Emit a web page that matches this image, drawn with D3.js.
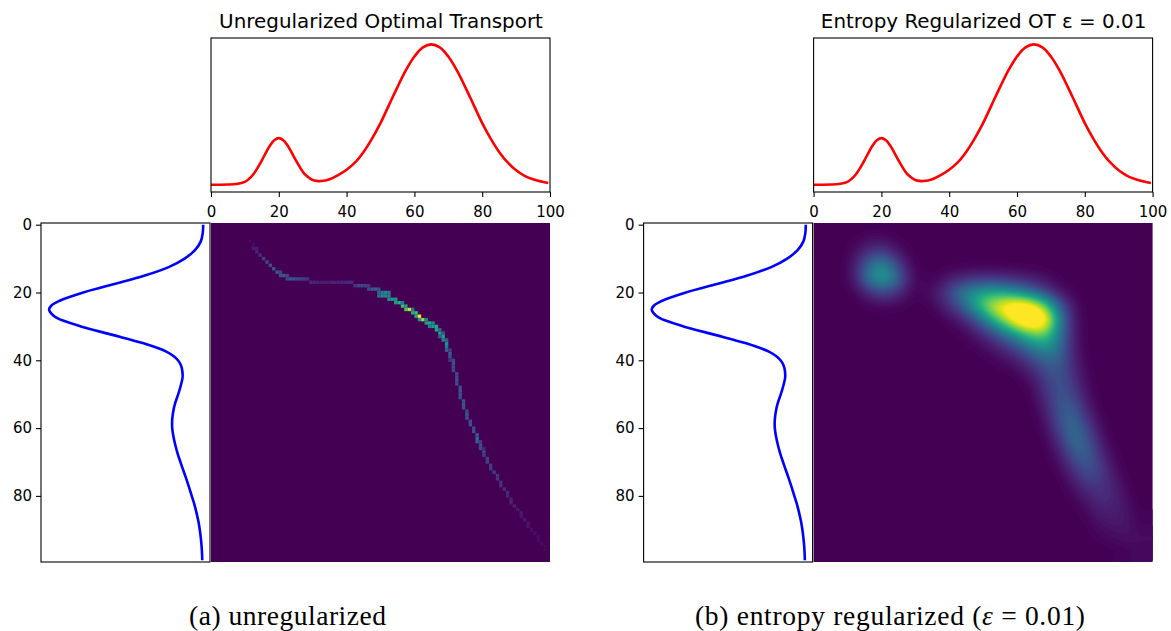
<!DOCTYPE html>
<html>
<head>
<meta charset="utf-8">
<script src="https://d3js.org/d3.v7.min.js"></script>
<style>
  html, body { margin: 0; padding: 0; background: #fff; }
  svg { display: block; }
  .tick text { font-family: "DejaVu Sans"; font-size: 15px; fill: #000; }
  .title { font-family: "DejaVu Sans"; font-size: 19.9px; fill: #000; text-anchor: middle; }
  .caption { font-family: "Liberation Serif"; font-size: 27.5px; fill: #000; text-anchor: middle; }
</style>
</head>
<body>
<div id="chart"></div>
<script>
// Top marginal (red)
const sourceX = [0, 2.5, 5, 7.5, 10, 11.25, 12.5, 13.75, 15, 16.25, 17.5, 18.75, 20, 21.25, 22.5, 23.75, 25, 26.25, 27.5, 28.75, 30, 31.25, 32.5, 35, 37.5, 40, 42.5, 45, 47.5, 50,
    52.5, 55, 57.5, 60, 62.5, 65, 67.5, 70, 72.5, 75, 77.5, 80, 82.5, 85, 87.5, 90, 92.5, 95, 97.5, 99.5];
const sourceDensity = [.002, .002, .003, .007, .022, .044, .076, .122, .175, .232, .284, .32, .333, .32, .284, .232, .176, .125, .08, .054, .035, .029, .028, .041, .07, .108, .16, .235, .33, .44,
    .568, .696, .816, .913, .978, 1, .978, .913, .816, .696, .568, .44, .33, .235, .16, .104, .065, .04, .024, .014];

// Left marginal (blue)
const targetRow = [0, 2.5, 5, 7.5, 10, 12.5, 15, 17.5, 20, 22.5, 23.75, 25, 26.25, 27.5, 30, 32.5, 35, 37.5, 38.75, 40, 41.25, 42.5, 45, 47.5, 50,
    52.5, 55, 57.5, 60, 62.5, 65, 67.5, 70, 72.5, 75, 77.5, 80, 82.5, 85, 87.5, 90, 92.5, 95, 97.5, 99];
const targetDensity = [.005, .008, .021, .058, .125, .228, .382, .578, .779, .935, .983, 1, .985, .95, .795, .59, .39, .24, .197, .168, .151, .142, .138, .15, .166,
    .185, .198, .205, .205, .197, .185, .17, .152, .133, .114, .096, .079, .062, .048, .036, .027, .02, .015, .012, .011];

const xTicks = [0, 20, 40, 60, 80, 100];
const yTicks = [0, 20, 40, 60, 80];

// Unregularized plan: non-zero cells as [row, col, value]
const planCells = [
    [5,11,.02],[6,12,.04],[7,12,.07],[7,13,.08],[8,13,.1],[9,14,.13],[10,15,.17],[11,16,.2],[12,17,.23],[13,18,.27],
    [14,19,.3],[14,20,.22],[15,20,.24],[15,21,.28],[15,22,.2],[16,22,.2],[16,23,.27],[16,24,.25],[16,25,.2],[16,26,.2],[16,27,.18],[16,28,.14],
    [17,29,.12],[17,30,.1],[17,31,.09],[17,32,.08],[17,33,.08],[17,34,.08],[17,35,.09],[17,36,.09],[17,37,.1],[17,38,.1],[17,39,.11],[17,40,.12],[17,41,.12],
    [18,42,.16],[18,43,.22],[18,44,.22],[18,45,.2],[18,46,.16],[19,46,.22],[19,47,.28],[19,48,.3],[19,49,.25],
    [20,49,.3],[20,50,.4],[20,51,.45],[20,52,.4],[21,49,.35],[21,50,.47],[21,51,.47],[21,52,.45],
    [22,52,.5],[22,53,.52],[22,54,.5],[23,54,.55],[23,55,.62],[23,56,.4],[24,56,.68],[24,57,.55],[25,57,.72],[25,58,.92],[25,59,.4],
    [26,59,.62],[26,60,.68],[27,60,.6],[27,61,1],[28,61,.5],[28,62,.85],[28,63,.45],[29,63,.55],[29,64,.6],[29,65,.45],
    [30,64,.45],[30,65,.55],[30,66,.6],[31,66,.6],[31,67,.35],[32,67,.55],[32,68,.3],[33,67,.3],[33,68,.58],[34,68,.45],[34,69,.3],
    [35,69,.5],[36,69,.42],[37,69,.32],[37,70,.18],[38,70,.3],[39,70,.27],[40,70,.14],[40,71,.22],[41,71,.24],[42,71,.24],[43,71,.22],
    [44,72,.23],[45,72,.23],[46,72,.24],[47,72,.23],[48,73,.24],[49,73,.27],[50,73,.25],[51,73,.24],[52,74,.25],[53,74,.27],[54,74,.25],
    [55,75,.24],[56,75,.27],[57,75,.27],[58,76,.24],[59,76,.25],[60,77,.24],[61,77,.25],[62,78,.28],[63,78,.34],[64,78,.3],[64,79,.17],
    [65,79,.25],[66,79,.24],[66,80,.1],[67,80,.22],[68,80,.21],[69,81,.2],[70,81,.19],[71,82,.18],[72,82,.18],[73,83,.17],[74,84,.16],
    [75,84,.15],[76,85,.14],[77,85,.13],[78,86,.13],[79,87,.12],[80,87,.11],[81,88,.1],[82,88,.1],[83,89,.09],[84,90,.08],[85,91,.07],
    [86,91,.06],[87,92,.06],[88,93,.05],[89,93,.05],[90,94,.04],[91,95,.04],[92,96,.03],[93,96,.03],[94,97,.02],[95,98,.02],[96,98,.02],[97,99,.01]
];

// Regularized plan on a coarse grid, rows and cols every 4 units (percent of max)
const entropyGrid = [
//   0  4  8 12 16 20 24 28 32 36 40 44 48 52 56 60 64 68 72 76 80 84 88 92 96
    [0, 0, 0, 0, 0, 0, 0, 0, 0, 0, 0, 0, 0, 0, 0, 0, 0, 0, 0, 0, 0, 0, 0, 0, 0], // 0
    [0, 0, 0, 1, 3, 3, 1, 0, 0, 0, 0, 0, 0, 0, 0, 0, 0, 0, 0, 0, 0, 0, 0, 0, 0], // 4
    [0, 0, 0, 4,15,18, 6, 1, 0, 0, 0, 0, 0, 0, 0, 0, 0, 0, 0, 0, 0, 0, 0, 0, 0], // 8
    [0, 0, 0, 9,38,52,24, 3, 0, 0, 0, 0, 0, 0, 0, 0, 0, 0, 0, 0, 0, 0, 0, 0, 0], // 12
    [0, 0, 0, 9,44,60,38, 6, 1, 2, 8,12,15,15,14,11, 8, 4, 1, 0, 0, 0, 0, 0, 0], // 16
    [0, 0, 0, 2,12,21,14, 3, 2, 8,26,46,58,62,58,48,34,20, 6, 1, 0, 0, 0, 0, 0], // 20
    [0, 0, 0, 0, 1, 2, 2, 0, 0, 4,14,34,66,95,112,122,112,78,32,5, 0, 0, 0, 0, 0], // 24
    [0, 0, 0, 0, 0, 0, 0, 0, 0, 0, 3,10,28,60,90,118,132,115,46,8, 0, 0, 0, 0, 0], // 28
    [0, 0, 0, 0, 0, 0, 0, 0, 0, 0, 0, 2, 8,20,40,62,80,80,42, 8, 0, 0, 0, 0, 0], // 32
    [0, 0, 0, 0, 0, 0, 0, 0, 0, 0, 0, 0, 2, 6,14,26,44,54,38, 9, 0, 0, 0, 0, 0], // 36
    [0, 0, 0, 0, 0, 0, 0, 0, 0, 0, 0, 0, 0, 1, 4, 9,20,33,31,11, 1, 0, 0, 0, 0], // 40
    [0, 0, 0, 0, 0, 0, 0, 0, 0, 0, 0, 0, 0, 0, 0, 2, 8,22,27,14, 2, 0, 0, 0, 0], // 44
    [0, 0, 0, 0, 0, 0, 0, 0, 0, 0, 0, 0, 0, 0, 0, 0, 3,16,27,18, 4, 0, 0, 0, 0], // 48
    [0, 0, 0, 0, 0, 0, 0, 0, 0, 0, 0, 0, 0, 0, 0, 0, 1,11,28,25, 7, 0, 0, 0, 0], // 52
    [0, 0, 0, 0, 0, 0, 0, 0, 0, 0, 0, 0, 0, 0, 0, 0, 0, 7,27,34,13, 1, 0, 0, 0], // 56
    [0, 0, 0, 0, 0, 0, 0, 0, 0, 0, 0, 0, 0, 0, 0, 0, 0, 3,22,38,22, 4, 0, 0, 0], // 60
    [0, 0, 0, 0, 0, 0, 0, 0, 0, 0, 0, 0, 0, 0, 0, 0, 0, 1,13,36,30, 8, 0, 0, 0], // 64
    [0, 0, 0, 0, 0, 0, 0, 0, 0, 0, 0, 0, 0, 0, 0, 0, 0, 0, 6,26,33,14, 2, 0, 0], // 68
    [0, 0, 0, 0, 0, 0, 0, 0, 0, 0, 0, 0, 0, 0, 0, 0, 0, 0, 2,14,27,20, 5, 0, 0], // 72
    [0, 0, 0, 0, 0, 0, 0, 0, 0, 0, 0, 0, 0, 0, 0, 0, 0, 0, 0, 6,17,18, 9, 1, 0], // 76
    [0, 0, 0, 0, 0, 0, 0, 0, 0, 0, 0, 0, 0, 0, 0, 0, 0, 0, 0, 2, 8,14,11, 3, 0], // 80
    [0, 0, 0, 0, 0, 0, 0, 0, 0, 0, 0, 0, 0, 0, 0, 0, 0, 0, 0, 0, 3,10,10, 5, 1], // 84
    [0, 0, 0, 0, 0, 0, 0, 0, 0, 0, 0, 0, 0, 0, 0, 0, 0, 0, 0, 0, 1, 5, 7, 6, 2], // 88
    [0, 0, 0, 0, 0, 0, 0, 0, 0, 0, 0, 0, 0, 0, 0, 0, 0, 0, 0, 0, 0, 2, 4, 5, 4], // 92
    [0, 0, 0, 0, 0, 0, 0, 0, 0, 0, 0, 0, 0, 0, 0, 0, 0, 0, 0, 0, 0, 0, 1, 2, 3]  // 96
];

const titleA = "Unregularized Optimal Transport";
const titleB = "Entropy Regularized OT ε = 0.01";

// Set dimensions
let width = 1171,
    height = 631;

// Create SVG
let svg = d3.select("#chart")
    .append("svg")
        .attr("width", width)
        .attr("height", height);

let defs = svg.append("defs");
defs.append("filter")
        .attr("id", "soften")
        .attr("x", "-5%").attr("y", "-5%").attr("width", "110%").attr("height", "110%")
    .append("feGaussianBlur")
        .attr("stdDeviation", 0.7);

// Shared scales
let color = d3.scaleSequential(d3.interpolateViridis).domain([0, 1]).clamp(true);
let topX = d3.scaleLinear().domain([0, 100]).range([211, 550]);
let topY = d3.scaleLinear().domain([-0.05, 1.045]).range([192, 38]);
let leftX = d3.scaleLinear().domain([1.052, -0.039]).range([41, 210]);
let leftY = d3.scaleLinear().domain([-0.5, 99.5]).range([223, 562]);
let cellX = d3.scaleBand().domain(d3.range(100)).range([211, 550]);
let cellY = d3.scaleBand().domain(d3.range(100)).range([223, 562]);

let frame = (panel, x0, x1, y0, y1) => {
    panel.append("rect")
        .attr("x", x0).attr("y", y0)
        .attr("width", x1 - x0).attr("height", y1 - y0)
        .attr("fill", "none")
        .attr("stroke", "#000")
        .attr("stroke-width", 1.1);
};

let styleAxis = (axis) => {
    axis.select(".domain").remove();
    axis.selectAll(".tick line").attr("stroke", "#000").attr("stroke-width", 1.1);
};

// Marginals and axes, the same in both panels
let drawMarginals = (panel, title) => {
    let topLine = d3.line().curve(d3.curveCatmullRom).x(d => topX(d[0])).y(d => topY(d[1]));
    panel.append("path")
        .attr("d", topLine(d3.zip(sourceX, sourceDensity)))
        .attr("fill", "none")
        .attr("stroke", "#ff0000")
        .attr("stroke-width", 2.6);
    frame(panel, 211, 550, 38, 192);
    panel.append("g")
        .attr("transform", "translate(0,192)")
        .call(d3.axisBottom(topX).tickValues(xTicks).tickSize(5).tickPadding(9).tickFormat(d3.format("d")))
        .call(styleAxis);

    let leftLine = d3.line().curve(d3.curveCatmullRom).x(d => leftX(d[1])).y(d => leftY(d[0]));
    panel.append("path")
        .attr("d", leftLine(d3.zip(targetRow, targetDensity)))
        .attr("fill", "none")
        .attr("stroke", "#0000ff")
        .attr("stroke-width", 2.6);
    frame(panel, 41, 210, 223, 562);
    panel.append("g")
        .attr("transform", "translate(41,0)")
        .call(d3.axisLeft(leftY).tickValues(yTicks).tickSize(5).tickPadding(4).tickFormat(d3.format("d")))
        .call(styleAxis);

    panel.append("text")
        .attr("class", "title")
        .attr("x", 381)
        .attr("y", 28)
        .text(title);
};

let heatBackground = (panel) => {
    panel.append("rect")
        .attr("x", 211).attr("y", 223)
        .attr("width", 339).attr("height", 339)
        .attr("fill", color(0));
};

// Panel (a)
let panelA = svg.append("g");
heatBackground(panelA);
panelA.append("g")
        .attr("filter", "url(#soften)")
    .selectAll("rect")
    .data(planCells)
    .join("rect")
        .attr("x", d => cellX(d[1]))
        .attr("y", d => cellY(d[0]))
        .attr("width", cellX.bandwidth())
        .attr("height", cellY.bandwidth())
        .attr("fill", d => color(d[2]));
drawMarginals(panelA, titleA);

// Panel (b)
let panelB = svg.append("g").attr("transform", "translate(602.6,0)");
heatBackground(panelB);

// Resample the coarse grid to the 100 x 100 image, like imshow smoothing
let rowSplines = entropyGrid.map(row => d3.interpolateBasis(row.map(v => v / 100)));
let field = [];
for (let r = 0; r < 100; r++) {
    for (let c = 0; c < 100; c++) {
        let t = Math.min(c / 96, 1);
        let column = d3.interpolateBasis(rowSplines.map(s => s(t)));
        field.push(column(Math.min(r / 96, 1)));
    }
}
let contours = d3.contours()
    .size([100, 100])
    .thresholds(d3.range(0.01, 1.02, 0.0125))(field);
let contourX = d3.scaleLinear().domain([0, 100]).range([211, 550]);
let contourY = d3.scaleLinear().domain([0, 100]).range([223, 562]);
let contourPath = d3.geoPath(d3.geoTransform({
    point: function(x, y) {
        this.stream.point(contourX(x), contourY(y));
    }
}));
panelB.append("g")
    .selectAll("path")
    .data(contours)
    .join("path")
        .attr("d", contourPath)
        .attr("fill", d => color(d.value));
drawMarginals(panelB, titleB);

// Captions
svg.append("text")
    .attr("class", "caption")
    .attr("x", 287.5)
    .attr("y", 625)
    .attr("textLength", 197)
    .text("(a) unregularized");
let captionB = svg.append("text")
    .attr("class", "caption")
    .attr("x", 890)
    .attr("y", 625)
    .attr("textLength", 390);
captionB.append("tspan").text("(b) entropy regularized (");
captionB.append("tspan").attr("font-style", "italic").text("ε");
captionB.append("tspan").text(" = 0.01)");
</script>
</body>
</html>
